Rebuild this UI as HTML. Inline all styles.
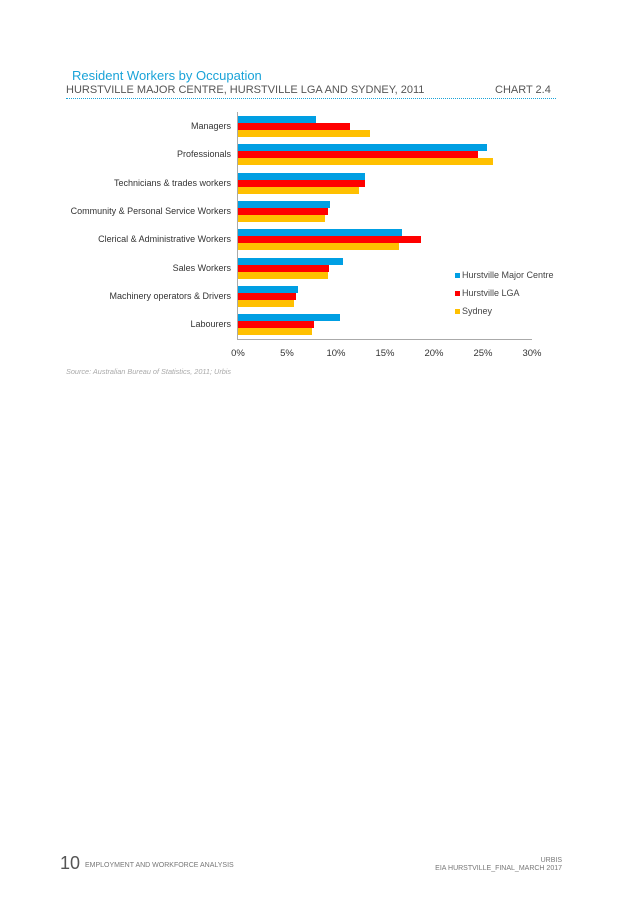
<!DOCTYPE html>
<html><head><style>
body{margin:0;width:637px;height:901px;background:#fff;font-family:"Liberation Sans",sans-serif;position:relative;overflow:hidden}
.a{position:absolute;white-space:nowrap}
.lbl{position:absolute;right:406px;font-size:9px;color:#333;text-align:right}
.b{position:absolute;height:7px;left:238px}
.c1{background:#009fe3}.c2{background:#f00}.c3{background:#ffc000}
.t{position:absolute;top:348px;font-size:9.5px;color:#333;width:40px;text-align:center}
</style></head><body>
<div class="a" style="left:72px;top:68px;font-size:13px;color:#1aa3d8">Resident Workers by Occupation</div>
<div class="a" style="left:66px;top:84px;font-size:11px;color:#555">HURSTVILLE MAJOR CENTRE, HURSTVILLE LGA AND SYDNEY, 2011</div>
<div class="a" style="left:495px;top:84px;font-size:11px;color:#555">CHART 2.4</div>
<div class="a" style="left:66px;top:98px;width:490px;border-top:1px dotted #1aa3d8"></div>
<div class="a" style="left:237px;top:112px;width:1px;height:228px;background:#aaa"></div>
<div class="a" style="left:237px;top:339px;width:295px;height:1px;background:#aaa"></div>
<div id="bars"></div>
<div class="t" style="left:218px">0%</div>
<div class="t" style="left:267px">5%</div>
<div class="t" style="left:316px">10%</div>
<div class="t" style="left:365px">15%</div>
<div class="t" style="left:414px">20%</div>
<div class="t" style="left:463px">25%</div>
<div class="t" style="left:512px">30%</div>
<div class="a" style="left:455px;top:270px;font-size:9px;color:#444"><span style="display:inline-block;width:5px;height:5px;background:#009fe3;margin-right:2px"></span>Hurstville Major Centre</div>
<div class="a" style="left:455px;top:288px;font-size:9px;color:#444"><span style="display:inline-block;width:5px;height:5px;background:#f00;margin-right:2px"></span>Hurstville LGA</div>
<div class="a" style="left:455px;top:306px;font-size:9px;color:#444"><span style="display:inline-block;width:5px;height:5px;background:#ffc000;margin-right:2px"></span>Sydney</div>
<div class="a" style="left:66px;top:367px;font-size:7.3px;color:#aaa;font-style:italic">Source: Australian Bureau of Statistics, 2011; Urbis</div>
<div class="a" style="left:60px;top:853px;font-size:18px;color:#555">10</div>
<div class="a" style="left:85px;top:862px;font-size:7px;color:#777">EMPLOYMENT AND WORKFORCE ANALYSIS</div>
<div class="a" style="left:520px;top:857px;font-size:7px;color:#777;width:42px;text-align:right">URBIS</div>
<div class="a" style="left:400px;top:865px;font-size:7px;color:#777;width:162px;text-align:right">EIA HURSTVILLE_FINAL_MARCH 2017</div>
<script>
var d=[["Managers",316,350,370],["Professionals",487,478,493],["Technicians & trades workers",365,365,359],["Community & Personal Service Workers",330,328,325],["Clerical & Administrative Workers",402,421,399],["Sales Workers",343,329,328],["Machinery operators & Drivers",298,296,294],["Labourers",340,314,312]];
var h="";
d.forEach(function(r,i){var y=116+i*28.35;
h+='<div class="lbl" style="top:'+(y+5)+'px">'+r[0].replace("&","&amp;")+'</div>';
for(var k=1;k<4;k++)h+='<div class="b c'+k+'" style="top:'+(y+(k-1)*7)+'px;width:'+(r[k]-238)+'px"></div>';});
document.getElementById("bars").innerHTML=h;
</script>
</body></html>
